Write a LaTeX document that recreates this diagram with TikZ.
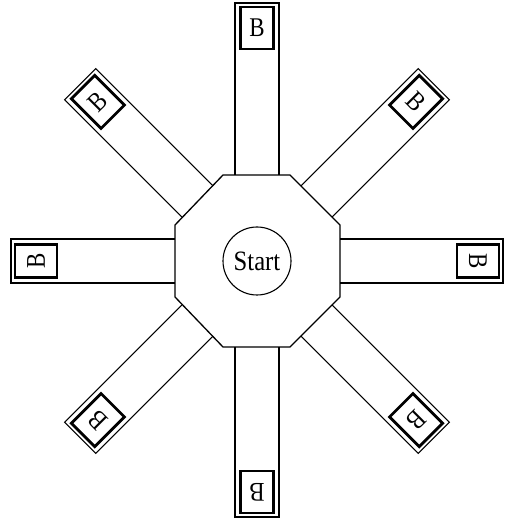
\documentclass[tikz,border=0pt]{standalone}
\usepackage{fontspec}
\usepackage{graphicx}
\setmainfont{Liberation Serif}
\usetikzlibrary{calc}
\begin{document}
\begin{tikzpicture}[x=1pt,y=1pt,
  armline/.style={draw, line width=1.1pt},
  octline/.style={draw, line width=1.3pt, line join=miter},
  bbox/.style={draw, line width=2.8pt, minimum width=33pt, minimum height=42pt, inner sep=0pt, font=\fontsize{27}{27}\selectfont},
  startnode/.style={circle, draw, line width=1.1pt, minimum size=68pt, inner sep=0pt, font=\fontsize{28}{28}\selectfont}]
\useasboundingbox (0,0) rectangle (509,520);
\coordinate (C) at (257,259);
\draw[octline] (223,345) -- (290,345) -- (340,295) -- (340,223) -- (290,173) -- (223,173) -- (175,223) -- (175,295) -- cycle;
\node[startnode] (start) at (C) {\scalebox{0.88}[1]{Start}};
\foreach \ang/\a/\L in {0/83/246, 45/84/250, 90/86/258, 135/84/250, 180/82/246, 225/84/250, 270/86/256, 315/84/250} {
  \begin{scope}[shift={(C)}, rotate=\ang]
    \draw[armline] (\a,-22) -- (\L,-22) -- (\L,22) -- (\a,22);
    \pgfmathsetmacro\bx{\L-25}
    \node[bbox, rotate=\ang-90] (b\ang) at (\bx,0) {\scalebox{0.85}[1]{B}};
  \end{scope}
}
\end{tikzpicture}
\end{document}
